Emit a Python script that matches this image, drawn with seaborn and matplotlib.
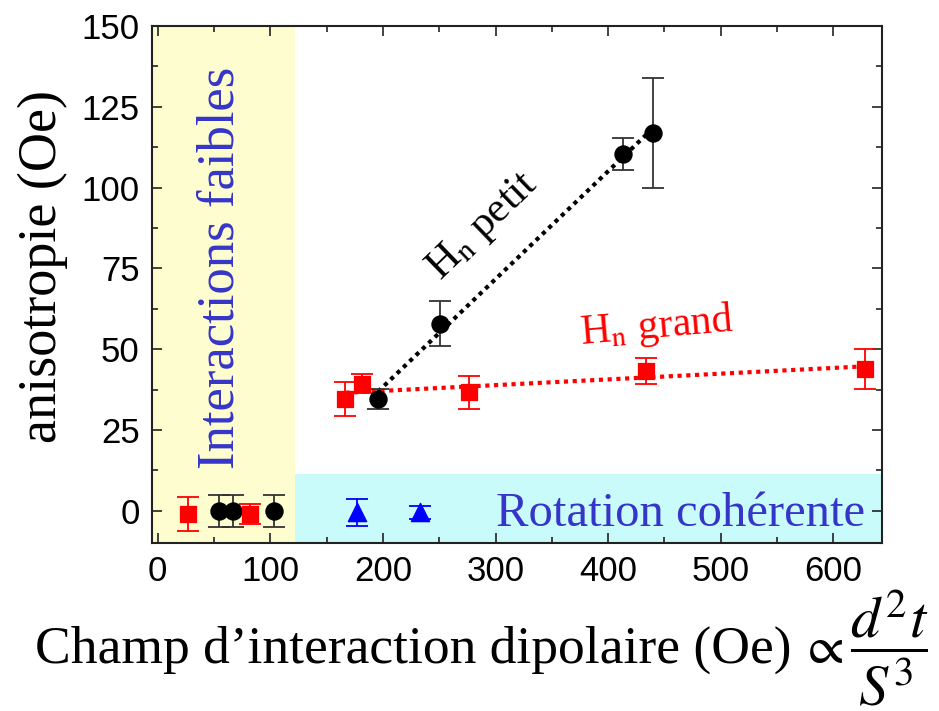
import numpy as np
import matplotlib
matplotlib.use("Agg")
import matplotlib.pyplot as plt
import seaborn as sns
from matplotlib.ticker import MultipleLocator

# data
petit_x = [195.6, 250.4, 413.0, 440.0]
petit_y = [34.6, 57.9, 110.3, 117.0]
petit_err = [3.0, 7.0, 5.0, 17.0]

grand_x = [166.7, 181.5, 276.5, 433.4, 628.5]
grand_y = [34.6, 39.3, 36.6, 43.2, 43.9]
grand_err = [5.2, 3.0, 5.0, 4.0, 6.2]

faible_circ_x = [54.0, 67.0, 103.0]
faible_circ_y = [0.0, 0.0, 0.0]
faible_circ_err = [5.0, 5.0, 5.0]

faible_sq_x = [27.0, 82.0]
faible_sq_y = [-1.0, -1.0]
faible_sq_err = [5.2, 3.0]

coh_x = [177.0, 233.0]
coh_y = [-0.5, -0.5]
coh_err = [4.2, 2.0]

xticks = [0, 100, 200, 300, 400, 500, 600]
yticks = [0, 25, 50, 75, 100, 125, 150]

sns.set_theme(style="ticks")
plt.rcParams['font.family'] = ['Liberation Serif', 'DejaVu Serif']
plt.rcParams['mathtext.fontset'] = 'stix'

BLUE = '#3535c8'
RED = '#ff0000'

fig = plt.figure(figsize=(9.39, 7.11), dpi=100)
ax = fig.add_axes([0.162, 0.2363, 0.777, 0.7271])
ax.set_xlim(-5, 643)
ax.set_ylim(-10, 150)

# shaded regions
ax.axvspan(-5, 122, color='#fdfdcf', zorder=0, lw=0)
ax.fill_between([122, 643], -10, 11.5, color='#c9fbfb', zorder=0, lw=0)

# linear fits
for xs, ys, col in [(petit_x, petit_y, 'black'), (grand_x, grand_y, RED)]:
    p = np.polyfit(xs, ys, 1)
    fx = np.array([xs[0], xs[-1]])
    sns.lineplot(x=fx, y=np.polyval(p, fx), ax=ax, color=col, lw=3,
                 linestyle=(0, (1, 1.1)), zorder=2)

# error bars
groups = [
    (petit_x, petit_y, petit_err, '#333333'),
    (faible_circ_x, faible_circ_y, faible_circ_err, '#333333'),
    (grand_x, grand_y, grand_err, RED),
    (faible_sq_x, faible_sq_y, faible_sq_err, RED),
    (coh_x, coh_y, coh_err, '#0000ff'),
]
for xs, ys, es, col in groups:
    ax.errorbar(xs, ys, yerr=es, fmt='none', ecolor=col, elinewidth=1.3,
                capsize=8, capthick=1.3, zorder=3)

# markers
sns.scatterplot(x=petit_x + faible_circ_x, y=petit_y + faible_circ_y, ax=ax,
                marker='o', s=150, color='black', edgecolor='black', zorder=4)
sns.scatterplot(x=grand_x + faible_sq_x, y=grand_y + faible_sq_y, ax=ax,
                marker='s', s=130, color=RED, edgecolor=RED, zorder=4)
sns.scatterplot(x=coh_x, y=coh_y, ax=ax, marker='^', s=170, color='#0000ff',
                edgecolor='#0000ff', zorder=4)

# annotations
ax.text(289, 88, r'H$_\mathrm{n}$ petit', rotation=44, fontsize=31,
        ha='center', va='center', color='black')
ax.text(443, 57, r'H$_\mathrm{n}$ grand', rotation=5, fontsize=30,
        ha='center', va='center', color=RED)
ax.text(56, 75, 'Interactions faibles', rotation=90, fontsize=38,
        ha='center', va='center', color=BLUE)
ax.text(464, -4.6, 'Rotation cohérente', fontsize=35,
        ha='center', va='baseline', color=BLUE)

# axes styling
ax.set_xticks(xticks)
ax.set_yticks(yticks)
ax.xaxis.set_minor_locator(MultipleLocator(50))
ax.yaxis.set_minor_locator(MultipleLocator(12.5))
ax.tick_params(which='both', direction='in', top=True, right=True,
               width=1.2, color='#222222')
ax.tick_params(which='major', length=7)
ax.tick_params(which='minor', length=4)
ax.tick_params(axis='y', labelsize=25, pad=9, labelcolor='black')
ax.tick_params(axis='x', labelsize=25, pad=9, labelcolor='black')
for lab in ax.get_xticklabels() + ax.get_yticklabels():
    lab.set_family('Liberation Sans')
for sp in ax.spines.values():
    sp.set_linewidth(1.5)
    sp.set_color('#222222')

fig.text(0.045, 0.6245, 'anisotropie (Oe)', fontsize=39, rotation=90,
         ha='center', va='center', color='black')
fig.text(0.037, 0.0675, 'Champ d’interaction dipolaire (Oe)', fontsize=38.5,
         ha='left', va='baseline', color='black')
fig.text(0.852, 0.0675, r'$\propto$', fontsize=38,
         ha='left', va='baseline', color='black')
fig.text(0.905, 0.0886, r'$\dfrac{d^2t}{S^3}$', fontsize=42,
         ha='left', va='center', color='black')

fig.savefig('out.png', dpi=100)
